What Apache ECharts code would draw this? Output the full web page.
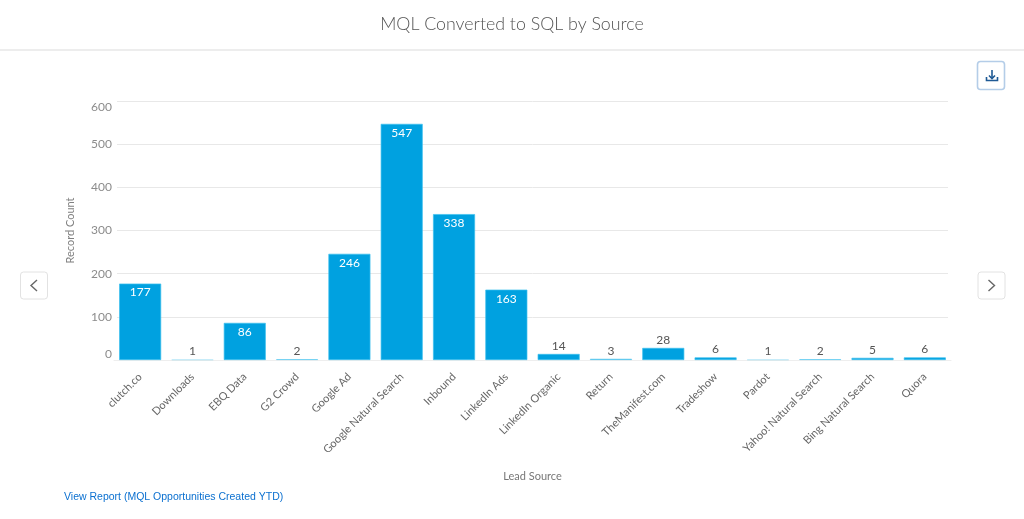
<!DOCTYPE html>
<html><head><meta charset="utf-8">
<style>html,body{margin:0;padding:0;background:#fff}#c{width:1024px;height:519px}</style>
<script src="https://cdn.jsdelivr.net/npm/echarts@6/dist/echarts.min.js"></script>
</head><body><div id="c"></div>
<script>
const categories = ['clutch.co','Downloads','EBQ Data','G2 Crowd','Google Ad','Google Natural Search','Inbound','LinkedIn Ads','LinkedIn Organic','Return','TheManifest.com','Tradeshow','Pardot','Yahoo! Natural Search','Bing Natural Search','Quora'];
const recordCount = [177,1,86,2,246,547,338,163,14,3,28,6,1,2,5,6];
const yTicks = {min:0,max:600,interval:100};
const titleText = 'MQL Converted to SQL by Source';
const linkText = 'View Report (MQL Opportunities Created YTD)';
const xName = 'Lead Source', yName = 'Record Count';
const insideFrom = 80;
const font = 'Lato';
const chart = echarts.init(document.getElementById('c'),null,{renderer:'canvas'});
const btn = (x,y,w,h,stroke,lw)=>({type:'rect',shape:{x,y,width:w,height:h,r:3},style:{fill:'#fff',stroke,lineWidth:lw}});
const pl = (points,stroke,lw)=>({type:'polyline',shape:{points},style:{fill:null,stroke,lineWidth:lw}});
chart.setOption({
  animation:false,
  backgroundColor:'#fff',
  title:{text:titleText,left:'center',top:10,textStyle:{fontFamily:font,fontWeight:300,fontSize:17.8,color:'#555'}},
  grid:[
    {left:117,right:76,top:101,height:259},
    {left:114,right:73,top:101,height:259}
  ],
  xAxis:[
    {gridIndex:0,type:'value',min:0,max:1,show:false},
    {gridIndex:1,type:'category',data:categories,
     axisLine:{show:true,lineStyle:{color:'#eeeeee'}},axisTick:{show:false},
     axisLabel:{interval:0,rotate:45,margin:15,fontFamily:font,fontSize:11,color:'#666'},
     name:xName,nameLocation:'middle',nameGap:111,nameTextStyle:{fontFamily:font,fontSize:11,color:'#777'}}
  ],
  yAxis:[
    {gridIndex:0,type:'value',min:yTicks.min,max:yTicks.max,interval:yTicks.interval,
     axisLine:{show:false},axisTick:{show:false},
     splitLine:{lineStyle:{color:'#e8e8e8',width:1}},
     axisLabel:{margin:5,fontFamily:font,fontSize:12,color:'#8c8c8c',verticalAlignMinLabel:'bottom',verticalAlignMaxLabel:'top'},
     name:yName,nameLocation:'middle',nameGap:41,nameTextStyle:{fontFamily:font,fontSize:11,color:'#808080'}},
    {gridIndex:1,type:'value',min:yTicks.min,max:yTicks.max,interval:yTicks.interval,show:false,splitLine:{show:false}}
  ],
  series:[{
    type:'bar',xAxisIndex:1,yAxisIndex:1,barWidth:42,
    itemStyle:{color:'#00A1E0',borderColor:'#3cc0ee',borderWidth:0.7},
    data:recordCount.map(v=>({value:v,
      itemStyle:v<=3?{opacity:v===1?0.3:0.6}:undefined,
      label:{show:true,opacity:1,position:v>=insideFrom?'insideTop':'top',distance:v>=insideFrom?3:2,
      color:v>=insideFrom?'#fff':'#555',fontFamily:font,fontSize:12}}))
  }],
  graphic:[
    {type:'line',shape:{x1:0,y1:50,x2:1024,y2:50},style:{stroke:'#dcdcdc',lineWidth:1.2}},
    btn(977.5,61.5,27,28,'#b4cde8',1.6),
    pl([[992,70],[992,78]],'#1f5a95',1.6),
    pl([[989,75.5],[992,78.5],[995,75.5]],'#1f5a95',1.6),
    pl([[986.5,77],[986.5,80.5],[997.5,80.5],[997.5,77]],'#1f5a95',1.6),
    btn(20.5,272,27,27,'#e2e2e2',1),
    pl([[37,280],[31,285.5],[37,291]],'#666',1.4),
    btn(978,272,27,27,'#e2e2e2',1),
    pl([[988.5,280],[994.5,285.5],[988.5,291]],'#666',1.4),
    {type:'text',left:64,top:492,style:{text:linkText,font:'10.5px "Liberation Sans"',fill:'#0b70d0'}}
  ]
});
</script></body></html>
